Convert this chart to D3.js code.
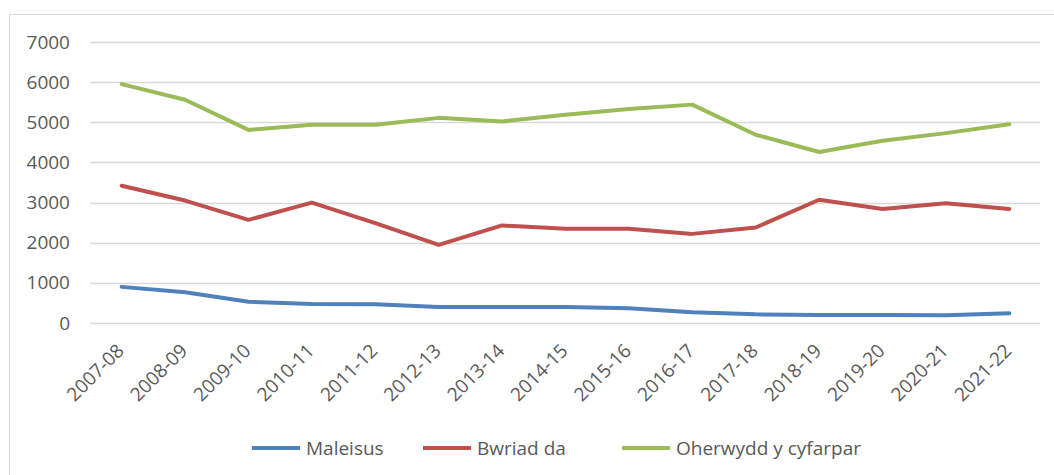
<!DOCTYPE html>
<html>
<head>
<meta charset="utf-8">
<script src="https://cdn.jsdelivr.net/npm/d3@7"></script>
<style>
  html, body { margin: 0; padding: 0; background: #ffffff; }
  svg { display: block; font-family: "Open Sans", sans-serif; }
</style>
</head>
<body>
<svg id="line-svg" width="1054" height="475"></svg>
<script>
const years = ["2007-08", "2008-09", "2009-10", "2010-11", "2011-12", "2012-13", "2013-14",
               "2014-15", "2015-16", "2016-17", "2017-18", "2018-19", "2019-20", "2020-21", "2021-22"]
const maleisus = [900, 765, 530, 475, 465, 400, 400, 400, 365, 265, 215, 200, 200, 190, 240]
const bwriad_da = [3420, 3050, 2570, 3000, 2490, 1945, 2430, 2345, 2345, 2220, 2380, 3070, 2840, 2985, 2840]
const oherwydd = [5950, 5560, 4810, 4940, 4940, 5110, 5020, 5190, 5330, 5440, 4690, 4260, 4540, 4730, 4950]
const y_ticks = [0, 1000, 2000, 3000, 4000, 5000, 6000, 7000]
const series_names = ["Maleisus", "Bwriad da", "Oherwydd y cyfarpar"]

const series = [
    { name: series_names[0], values: maleisus, color: "#4f81bd" },
    { name: series_names[1], values: bwriad_da, color: "#c0504d" },
    { name: series_names[2], values: oherwydd, color: "#9bbb59" }
]

const svg = d3.select("#line-svg")
const text_color = "#595959"
const grid_color = "#d9d9d9"

// chart frame (only top and left edges visible)
svg.append("line").attr("x1", 9).attr("x2", 1054).attr("y1", 14.5).attr("y2", 14.5)
   .attr("stroke", grid_color).attr("stroke-width", 1)
svg.append("line").attr("x1", 9.5).attr("x2", 9.5).attr("y1", 14).attr("y2", 475)
   .attr("stroke", grid_color).attr("stroke-width", 1)

const x = d3.scalePoint().domain(years).range([90, 1041]).padding(0.5)
const y = d3.scaleLinear().domain([0, 7000]).range([323, 42])

// gridlines
svg.append("g")
    .selectAll("line")
    .data(y_ticks)
    .enter()
    .append("line")
    .attr("x1", 90)
    .attr("x2", 1040)
    .attr("y1", d => Math.round(y(d)) + 0.5)
    .attr("y2", d => Math.round(y(d)) + 0.5)
    .attr("stroke", grid_color)
    .attr("stroke-width", 1.3)

// y axis labels
const y_axis = svg.append("g")
    .attr("transform", "translate(70,0)")
    .call(d3.axisLeft(y).tickValues(y_ticks).tickSize(0).tickPadding(0).tickFormat(d3.format("d")))
y_axis.select(".domain").remove()
y_axis.selectAll("text")
    .attr("fill", text_color)
    .attr("font-size", "19px")
    .attr("font-family", "Open Sans, sans-serif")

// x axis labels, rotated
const x_axis = svg.append("g")
    .attr("transform", "translate(0,323)")
    .call(d3.axisBottom(x).tickSize(0).tickPadding(0))
x_axis.select(".domain").remove()
x_axis.selectAll("text")
    .attr("fill", text_color)
    .attr("font-size", "19px")
    .attr("font-family", "Open Sans, sans-serif")
    .attr("text-anchor", "end")
    .attr("dy", 0)
    .attr("transform", "translate(3,29) rotate(-45)")

// lines
const line_gen = d3.line()
    .x((d, i) => x(years[i]))
    .y(d => y(d))

svg.append("g")
    .selectAll("path")
    .data(series)
    .enter()
    .append("path")
    .attr("d", d => line_gen(d.values))
    .attr("fill", "none")
    .attr("stroke", d => d.color)
    .attr("stroke-width", 4)
    .attr("stroke-linejoin", "round")
    .attr("stroke-linecap", "round")

// legend
const legend_x = [252, 423, 622]
const legend = svg.append("g")
    .selectAll("g")
    .data(series)
    .enter()
    .append("g")
    .attr("transform", (d, i) => `translate(${legend_x[i]},448)`)
legend.append("line")
    .attr("x1", 0).attr("x2", 48).attr("y1", 0).attr("y2", 0)
    .attr("stroke", d => d.color)
    .attr("stroke-width", 4)
legend.append("text")
    .attr("x", 54)
    .attr("y", 7)
    .attr("fill", text_color)
    .attr("font-size", "19px")
    .text(d => d.name)
</script>
</body>
</html>
